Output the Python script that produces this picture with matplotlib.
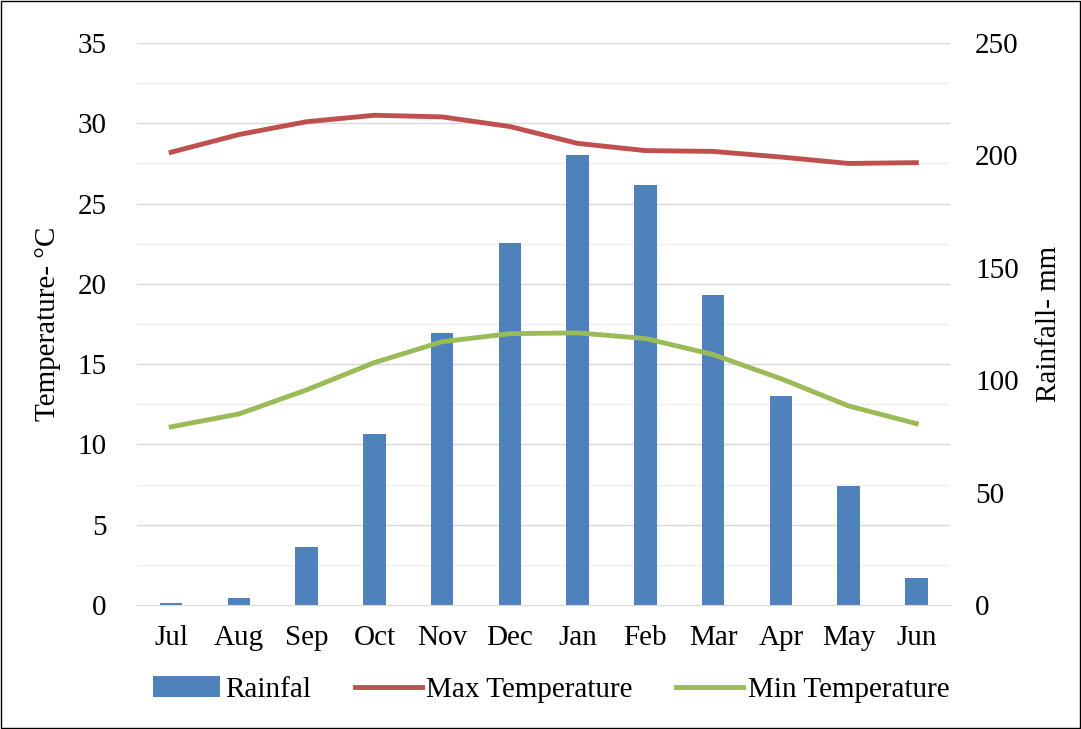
import matplotlib.pyplot as plt
import numpy as np

plt.rcParams['font.family'] = ['Liberation Serif', 'DejaVu Serif']

months = ['Jul', 'Aug', 'Sep', 'Oct', 'Nov', 'Dec', 'Jan', 'Feb', 'Mar', 'Apr', 'May', 'Jun']
rainfall = [1, 3, 26, 76, 121, 161, 200, 187, 138, 93, 53, 12]
max_temp = [28.2, 29.3, 30.1, 30.5, 30.4, 29.8, 28.75, 28.3, 28.25, 27.9, 27.5, 27.55]
min_temp = [11.1, 11.9, 13.4, 15.1, 16.4, 16.9, 16.95, 16.6, 15.6, 14.1, 12.4, 11.3]

fig = plt.figure(figsize=(10.81, 7.29), dpi=100)
fig.patches.append(plt.Rectangle((0.001, 0.001), 0.998, 0.998, transform=fig.transFigure,
                                 fill=False, edgecolor='black', lw=1))
ax = fig.add_axes([0.127, 0.17, 0.752, 0.771])
ax2 = ax.twinx()
x = np.arange(len(months))

ax.set_zorder(2)
ax.patch.set_visible(False)
bars = ax2.bar(x, rainfall, width=0.33, color='#4f81bd', label='Rainfal')
l1, = ax.plot(x, max_temp, color='#c0504d', lw=3.5, label='Max Temperature')
l2, = ax.plot(x, min_temp, color='#9bbb59', lw=3.5, label='Min Temperature')

ax.set_ylim(0, 35)
ax2.set_ylim(0, 250)
ax.set_xlim(-0.5, 11.5)
ax.set_yticks(np.arange(0, 36, 5))
ax2.set_yticks(np.arange(0, 251, 50))
for y in np.arange(2.5, 35, 2.5):
    ax2.axhline(y / 35 * 250, color='#d9d9d9' if y % 5 == 0 else '#efefef', lw=1, zorder=0)
ax2.axhline(250, color='#d9d9d9', lw=1, zorder=0)
ax.set_xticks(x)
ax.set_xticklabels(months)
for a in (ax, ax2):
    for s in a.spines.values():
        s.set_visible(False)
    a.tick_params(length=0, labelsize=21, pad=14)
ax.tick_params(axis='y', pad=22)
ax2.tick_params(axis='y', pad=18)
ax.spines['bottom'].set_visible(True)
ax.spines['bottom'].set_color('#d9d9d9')
ax.set_ylabel('Temperature- °C', fontsize=21, labelpad=12)
ax2.set_ylabel('Rainfall- mm', fontsize=21, labelpad=12)

fig.legend([bars, l1, l2], ['Rainfal', 'Max Temperature', 'Min Temperature'],
           loc='lower center', bbox_to_anchor=(0.51, 0.0), ncol=3, frameon=False,
           fontsize=21, handlelength=2.3, handletextpad=0.15, columnspacing=1.5)
fig.savefig('out.png')
